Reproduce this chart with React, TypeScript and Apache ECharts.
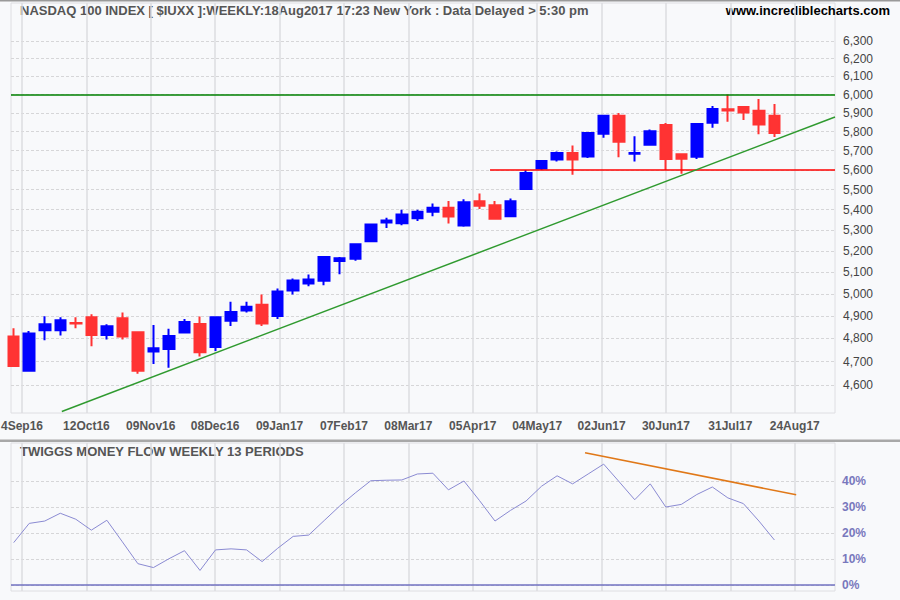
import React, { useEffect, useRef } from 'react';
import * as echarts from 'echarts';

// Weekly NASDAQ 100 candles (index 0 = week of 9 Sep 2016 ... index 49 = 18 Aug 2017)
const opens = [4809, 4660, 4836, 4836, 4869, 4894, 4815, 4890, 4827, 4743,
  4754, 4826, 4864, 4763, 4879, 4924, 4950, 4900, 5015, 5048,
  5060, 5152, 5163, 5247, 5337, 5334, 5358, 5390, 5410, 5323,
  5442, 5422, 5368, 5503, 5608, 5654, 5688, 5669, 5789, 5884,
  5683, 5730, 5835, 5681, 5668, 5847, 5920, 5932, 5911, 5884];
const closes = [4681, 4822, 4863, 4881, 4866, 4815, 4854, 4809, 4660, 4757,
  4811, 4873, 4740, 4894, 4918, 4941, 4866, 5011, 5062, 5066,
  5171, 5166, 5232, 5327, 5347, 5376, 5390, 5410, 5366, 5437,
  5419, 5355, 5442, 5585, 5646, 5688, 5654, 5793, 5884, 5746,
  5687, 5802, 5656, 5658, 5840, 5921, 5913, 5902, 5838, 5793];
const lows = [4679, 4658, 4792, 4813, 4845, 4766, 4796, 4796, 4648, 4689,
  4673, 4822, 4722, 4745, 4855, 4915, 4855, 4886, 4997, 5035,
  5040, 5091, 5154, 5242, 5310, 5324, 5344, 5368, 5332, 5317,
  5404, 5353, 5366, 5498, 5600, 5643, 5576, 5662, 5768, 5665,
  5643, 5725, 5600, 5580, 5656, 5820, 5852, 5862, 5786, 5771];
const highs = [4845, 4833, 4899, 4894, 4894, 4908, 4863, 4916, 4828, 4860,
  4843, 4886, 4898, 4898, 4964, 4964, 4997, 5025, 5071, 5089,
  5173, 5171, 5237, 5329, 5361, 5400, 5400, 5431, 5443, 5452,
  5481, 5443, 5456, 5600, 5648, 5695, 5726, 5795, 5886, 5900,
  5775, 5811, 5846, 5686, 5846, 5937, 6000, 5937, 5975, 5948];

// Twiggs Money Flow (13 periods), percent
const moneyFlow = [16.3, 23.7, 24.6, 27.6, 25.3, 21.1, 24.9, 16.6, 8.2, 6.7,
  10.1, 13.2, 5.6, 13.5, 13.9, 13.5, 9.0, 14.1, 18.7, 19.2,
  24.8, 30.4, 35.4, 40.1, 40.3, 40.4, 42.7, 43.0, 36.6, 40.0,
  32.5, 24.6, 28.7, 32.3, 38.0, 42.0, 38.9, 42.7, 46.5, 39.7,
  32.8, 38.9, 30.0, 31.0, 34.8, 37.7, 33.5, 31.3, 24.6, 17.3];

const priceTicks = [4600, 4700, 4800, 4900, 5000, 5100, 5200, 5300, 5400, 5500,
  5600, 5700, 5800, 5900, 6000, 6100, 6200, 6300];
const mfTicks = [0, 10, 20, 30, 40];
const xTickLabels = ['4Sep16', '12Oct16', '09Nov16', '08Dec16', '09Jan17', '07Feb17',
  '08Mar17', '05Apr17', '04May17', '02Jun17', '30Jun17', '31Jul17', '24Aug17'];
const xTickPos = [0.535, 4.682, 8.83, 12.977, 17.125, 21.273, 25.42, 29.568,
  33.715, 37.863, 42.011, 46.158, 50.306];

const xMin = -0.174;
const xMax = 52.9;
const resistanceLevel = 6000;
const supportLevel = 5600;
const supportStart = 30.68;
const trendLine = [[3.1, 4490], [52.9, 5878]];
const mfTrendLine = [[36.8, 50.9], [50.4, 34.7]];

const FONT = '"Liberation Sans", Arial, sans-serif';

export default function App() {
  const ref = useRef<HTMLDivElement>(null);
  useEffect(() => {
    const chart = echarts.init(ref.current as HTMLDivElement, null, { renderer: 'svg' });
    const candles = opens.map((o, i) => [i, o, closes[i], lows[i], highs[i]]);
    const xLabel = (v: number) => {
      let best = 0;
      let d = Infinity;
      xTickPos.forEach((p, i) => {
        const dd = Math.abs(p - v);
        if (dd < d) { d = dd; best = i; }
      });
      return xTickLabels[best];
    };
    const vSplit = { show: true, lineStyle: { color: '#dcdce0', width: 1.5, type: 'solid' } };
    const hSplit = { show: true, lineStyle: { color: '#d6d6d8', width: 1, type: [3, 2] } };
    chart.setOption({
      animation: false,
      backgroundColor: '#f8f9fb',
      textStyle: { fontFamily: FONT },
      grid: [
        { left: 11, top: 3, width: 824, height: 410, show: true, backgroundColor: 'transparent', borderColor: '#dedee2', borderWidth: 1, containLabel: false, outerBoundsMode: 'none' },
        { left: 11, top: 443, width: 824, height: 148, show: true, backgroundColor: 'transparent', borderColor: '#dedee2', borderWidth: 1, containLabel: false, outerBoundsMode: 'none' },
      ],
      xAxis: [
        {
          type: 'value', gridIndex: 0, min: xMin, max: xMax,
          axisLine: { show: false },
          axisTick: { show: false, customValues: xTickPos },
          axisLabel: { customValues: xTickPos, formatter: xLabel, color: '#555', fontWeight: 'bold', fontSize: 12, margin: 7, fontFamily: FONT },
          splitLine: vSplit,
        },
        {
          type: 'value', gridIndex: 1, min: xMin, max: xMax,
          axisLine: { show: false },
          axisTick: { show: false, customValues: xTickPos },
          axisLabel: { show: false, customValues: xTickPos },
          splitLine: vSplit,
        },
      ],
      yAxis: [
        {
          type: 'log', logBase: 10, gridIndex: 0, position: 'right', min: 4483.8, max: 6523.8,
          axisLine: { show: false },
          axisTick: { show: false, customValues: priceTicks },
          axisLabel: {
            customValues: priceTicks,
            formatter: (v: number) => Math.round(v).toLocaleString('en-US'),
            color: '#444', fontSize: 12, margin: 8, fontFamily: FONT,
          },
          splitLine: hSplit,
        },
        {
          type: 'value', gridIndex: 1, position: 'right', min: -2.31, max: 54.62,
          axisLine: { show: false },
          axisTick: { show: false, customValues: mfTicks },
          axisLabel: { customValues: mfTicks, formatter: '{value}%', color: '#7878bd', fontWeight: 'bold', fontSize: 12, margin: 7, fontFamily: FONT },
          splitLine: hSplit,
        },
      ],
      series: [
        {
          type: 'candlestick', xAxisIndex: 0, yAxisIndex: 0, data: candles,
          barWidth: 11, clip: false, silent: true,
          itemStyle: { color: '#0000ff', color0: '#ff3333', borderColor: '#0000ff', borderColor0: '#ff3333', borderWidth: 2 },
          markLine: {
            silent: true, symbol: 'none', label: { show: false }, animation: false,
            lineStyle: { color: '#008000', width: 1.5, type: 'solid' },
            data: [{ yAxis: resistanceLevel }],
          },
        },
        {
          type: 'line', xAxisIndex: 0, yAxisIndex: 0, silent: true, symbol: 'none',
          data: [[supportStart, supportLevel], [xMax, supportLevel]],
          lineStyle: { color: '#ff0000', width: 1.5 },
        },
        {
          type: 'line', xAxisIndex: 0, yAxisIndex: 0, silent: true, symbol: 'none',
          data: trendLine,
          lineStyle: { color: '#2f9a2f', width: 1.5 },
        },
        {
          type: 'line', xAxisIndex: 1, yAxisIndex: 1, silent: true, symbol: 'none',
          data: moneyFlow.map((v, i) => [i, v]),
          lineStyle: { color: '#8a8ad2', width: 1 },
          markLine: {
            silent: true, symbol: 'none', label: { show: false }, animation: false,
            lineStyle: { color: '#7272c2', width: 1.5, type: 'solid' },
            data: [{ yAxis: 0 }],
          },
        },
        {
          type: 'line', xAxisIndex: 1, yAxisIndex: 1, silent: true, symbol: 'none',
          data: mfTrendLine,
          lineStyle: { color: '#e07818', width: 1.5 },
        },
      ],
      graphic: [
        { type: 'rect', silent: true, shape: { x: 0, y: 0, width: 900, height: 1.5 }, style: { fill: '#9a9a9a' } },
        { type: 'rect', silent: true, shape: { x: 0, y: 439.5, width: 900, height: 2.5 }, style: { fill: '#a8a8a8' } },
        {
          type: 'text', silent: true, x: 20, y: 10,
          style: { text: 'NASDAQ 100 INDEX [ $IUXX ]:WEEKLY:18Aug2017 17:23 New York : Data Delayed > 5:30 pm', fill: '#555', fontSize: 13, fontWeight: 'bold', fontFamily: FONT, verticalAlign: 'middle', align: 'left' },
        },
        {
          type: 'text', silent: true, x: 890, y: 10,
          style: { text: 'www.incrediblecharts.com', fill: '#000', fontSize: 13, fontWeight: 'bold', fontFamily: FONT, verticalAlign: 'middle', align: 'right' },
        },
        {
          type: 'text', silent: true, x: 20, y: 451,
          style: { text: 'TWIGGS MONEY FLOW WEEKLY 13 PERIODS', fill: '#555', fontSize: 13, fontWeight: 'bold', fontFamily: FONT, verticalAlign: 'middle', align: 'left' },
        },
      ],
    });
    return () => chart.dispose();
  }, []);
  return <div ref={ref} style={{ position: 'absolute', left: 0, top: 0, width: 900, height: 600 }} />;
}
